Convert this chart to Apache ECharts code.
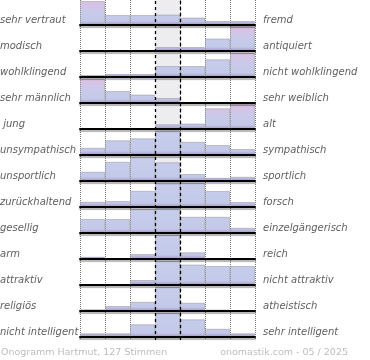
<!DOCTYPE html>
<html>
<head>
<meta charset="utf-8">
<script src="https://cdn.jsdelivr.net/npm/echarts@6/dist/echarts.min.js"></script>
<style>html,body{margin:0;padding:0;background:#fff}#c{width:370px;height:360px}</style>
</head>
<body>
<div id="c"></div>
<script>
// ---- data ----
var leftLabels = ['sehr vertraut','modisch','wohlklingend','sehr männlich',' jung','unsympathisch','unsportlich','zurückhaltend','gesellig','arm','attraktiv','religiös','nicht intelligent'];
var rightLabels = ['fremd','antiquiert','nicht wohlklingend','sehr weiblich','alt','sympathisch','sportlich','forsch','einzelgängerisch','reich','nicht attraktiv','atheistisch','sehr intelligent'];
var scaleSteps = ['1','2','3','4','5','6','7'];
var row01 = [96, 40, 40, 42, 30, 16, 16];
var row02 = [3, 0, 0, 16, 16, 50, 99];
var row03 = [8, 12, 12, 44, 44, 71, 96];
var row04 = [98, 48, 34, 20, 0, 0, 0];
var row05 = [0, 0, 0, 19, 22, 83, 99];
var row06 = [29, 59, 67, 97, 53, 40, 24];
var row07 = [37, 77, 97, 75, 28, 13, 17];
var row08 = [21, 24, 65, 95, 97, 64, 20];
var row09 = [56, 56, 96, 99, 65, 65, 21];
var row10 = [9, 0, 20, 96, 27, 0, 0];
var row11 = [0, 0, 20, 96, 82, 76, 76];
var row12 = [7, 20, 37, 96, 33, 6, 4];
var row13 = [15, 15, 51, 96, 71, 33, 15];
var footerLeft = 'Onogramm Hartmut, 127 Stimmen';
var footerRight = 'onomastik.com - 05 / 2025';

var rows = [row01,row02,row03,row04,row05,row06,row07,row08,row09,row10,row11,row12,row13];

// ---- layout ----
var LEFT = 80, WIDTH = 175, ROWH = 26, FIRST_BASE = 25, BARH = 25;
var grids = [], xAxes = [], yAxes = [], series = [], graphics = [];

function grad(top, base, pink) {
  var stops = pink ? [
    {offset:0, color:'#dcbfe3'},
    {offset:0.5, color:'#c9caea'},
    {offset:0.84, color:'#c3c9e8'},
    {offset:0.93, color:'#b3acd6'},
    {offset:1, color:'#9f8fc4'}
  ] : [
    {offset:0, color:'#c7cdeb'},
    {offset:0.84, color:'#c3c9e8'},
    {offset:0.93, color:'#b3acd6'},
    {offset:1, color:'#9f8fc4'}
  ];
  return new echarts.graphic.LinearGradient(0, top, 0, base, stops, true);
}

rows.forEach(function (vals, i) {
  var base = FIRST_BASE + ROWH * i;
  var top = base - BARH;
  grids.push({left: LEFT, width: WIDTH, top: top, height: BARH, containLabel: false});
  xAxes.push({
    type: 'category', gridIndex: i, data: scaleSteps, boundaryGap: true, z: 10,
    axisLine: {show: true, lineStyle: {color: '#000', width: 2, shadowColor: 'rgba(0,0,0,0.3)', shadowOffsetY: 2, shadowBlur: 1}},
    axisTick: {show: false}, axisLabel: {show: false}, splitLine: {show: false}
  });
  yAxes.push({type: 'value', gridIndex: i, min: 0, max: 100, show: false});
  series.push({
    type: 'bar', xAxisIndex: i, yAxisIndex: i, barCategoryGap: '0%', z: 3, silent: true,
    data: vals.map(function (v, j) {
      var h = v / 100 * BARH;
      var pink = (j <= 1 || j >= 5) && h >= 20;
      return {
        value: v === 0 ? '-' : v,
        itemStyle: {color: grad(top, base, pink), borderColor: 'rgba(130,130,140,0.42)', borderWidth: 1}
      };
    })
  });
  graphics.push({type: 'text', left: 0, top: base - 10, style: {text: leftLabels[i], font: 'italic 10px "DejaVu Sans"', fill: '#606060'}});
  graphics.push({type: 'text', left: 263, top: base - 10, style: {text: rightLabels[i], font: 'italic 10px "DejaVu Sans"', fill: '#606060'}});
});

// background grid for column guides
var bg = rows.length;
grids.push({left: LEFT, width: WIDTH, top: 0, height: FIRST_BASE + ROWH * (rows.length - 1) + 3});
xAxes.push({
  type: 'value', gridIndex: bg, min: 0, max: scaleSteps.length, interval: 1,
  axisLine: {show: false}, axisTick: {show: false}, axisLabel: {show: false},
  splitLine: {show: true, showMinLine: true, showMaxLine: true, lineStyle: {type: [1, 1], color: '#777', width: 1}}
});
yAxes.push({type: 'value', gridIndex: bg, min: 0, max: 1, show: false});
series.push({
  type: 'line', xAxisIndex: bg, yAxisIndex: bg, data: [[0, 0]], showSymbol: false, symbol: 'none',
  lineStyle: {opacity: 0}, z: 0, silent: true,
  markArea: {silent: true, itemStyle: {color: '#ededf0'}, data: [[{xAxis: 3}, {xAxis: 4}]]}
});
series.push({
  type: 'line', xAxisIndex: bg, yAxisIndex: bg, data: [[0, 0]], showSymbol: false, symbol: 'none',
  lineStyle: {opacity: 0}, z: 20, silent: true,
  markLine: {silent: true, symbol: 'none', label: {show: false},
    lineStyle: {type: [3, 3], color: '#000', width: 1.3}, data: [{xAxis: 3}, {xAxis: 4}]}
});

graphics.push({type: 'text', left: 1, top: 348, style: {text: footerLeft, font: '9.5px "DejaVu Sans"', fill: '#bdbdbd'}});
graphics.push({type: 'text', right: 22, top: 348, style: {text: footerRight, font: '9.5px "DejaVu Sans"', fill: '#bdbdbd'}});

var chart = echarts.init(document.getElementById('c'), null, {renderer: 'canvas'});
chart.setOption({
  animation: false,
  backgroundColor: '#fff',
  grid: grids, xAxis: xAxes, yAxis: yAxes, series: series, graphic: graphics
});
</script>
</body>
</html>
